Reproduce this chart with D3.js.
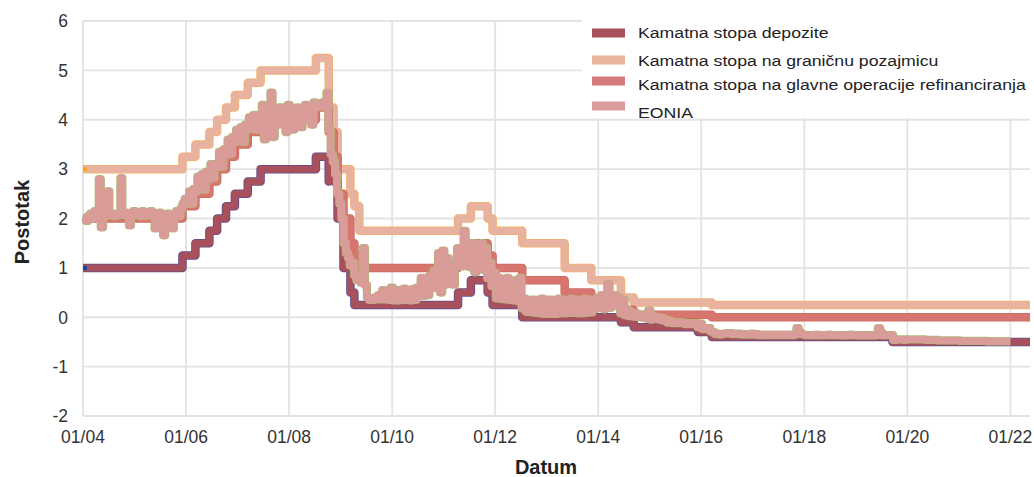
<!DOCTYPE html>
<html>
<head>
<meta charset="utf-8">
<script src="https://cdn.jsdelivr.net/npm/d3@7"></script>
<style>
  body { margin: 0; background: #fff; }
  text { font-family: "Liberation Sans", Arial, sans-serif; }
</style>
</head>
<body>
<svg width="1034" height="477"></svg>
<script>
// datumi promjene kamatnih stopa ESB-a (zadnji = kraj grafikona)
var rateDates = ["2004-01-01","2005-12-06","2006-03-08","2006-06-15","2006-08-09","2006-10-11","2006-12-13",
  "2007-03-14","2007-06-13","2008-07-09","2008-10-08","2008-10-09","2008-10-15","2008-11-12","2008-12-10",
  "2009-01-21","2009-03-11","2009-04-08","2009-05-13","2011-04-13","2011-07-13","2011-11-09","2011-12-14",
  "2012-07-11","2013-05-08","2013-11-13","2014-06-11","2014-09-10","2015-12-09","2016-03-16","2019-09-18","2022-05-20"];

var depozite = [1.00,1.25,1.50,1.75,2.00,2.25,2.50,2.75,3.00,3.25,2.75,3.25,3.25,2.75,2.00,
  1.00,0.50,0.25,0.25,0.50,0.75,0.50,0.25,0.00,0.00,0.00,-0.10,-0.20,-0.30,-0.40,-0.50,-0.50];
var granicna = [3.00,3.25,3.50,3.75,4.00,4.25,4.50,4.75,5.00,5.25,4.75,4.25,4.25,3.75,3.00,
  3.00,2.50,2.25,1.75,2.00,2.25,2.00,1.75,1.50,1.00,0.75,0.40,0.30,0.30,0.25,0.25,0.25];
var glavne = [2.00,2.25,2.50,2.75,3.00,3.25,3.50,3.75,4.00,4.25,3.75,3.75,3.75,3.25,2.50,
  2.00,1.50,1.25,1.00,1.25,1.50,1.25,1.00,0.75,0.50,0.25,0.15,0.05,0.05,0.00,0.00,0.00];

// EONIA: dvije vrijednosti po mjesecu (sredina, kraj mjeseca)
var eonia2004 = [2.02,1.95, 2.05,2.10, 2.00,2.15, 2.05,2.80, 1.82,2.05, 2.05,2.55, 2.08,2.10, 2.05,2.08, 2.07,2.82, 2.10,2.12, 2.05,1.86, 2.08,2.15];
var eonia2005 = [2.08,2.12, 2.05,2.15, 2.05,2.10, 2.07,2.15, 2.05,1.80, 2.07,2.12, 2.06,1.66, 2.06,2.10, 2.08,1.80, 2.07,2.15, 2.05,2.20, 2.30,2.40];
var eonia2006 = [2.30,2.55, 2.30,2.60, 2.55,2.85, 2.60,2.90, 2.58,2.95, 2.80,3.10, 2.82,3.10, 3.05,3.35, 3.05,3.40, 3.30,3.60, 3.30,3.65, 3.55,3.80];
var eonia2007 = [3.56,3.85, 3.55,3.90, 3.80,4.05, 3.82,4.10, 3.80,4.10, 4.05,4.30, 3.60,4.20, 4.10,4.55, 3.65,4.20, 3.90,4.25, 3.95,4.25, 3.75,4.30];
var eonia2008 = [4.10,3.80, 4.05,4.25, 4.10,3.85, 4.00,4.30, 4.00,4.15, 3.90,4.35, 4.25,4.30, 4.30,4.35, 4.25,4.55, 3.80,3.30, 3.15,2.90, 2.50,2.30];
var eonia2009 = [2.00,1.50, 1.30,1.20, 1.05,1.10, 0.85,0.75, 0.80,0.70, 1.40,0.65, 0.40,0.35, 0.35,0.40, 0.36,0.45, 0.36,0.55, 0.36,0.50, 0.35,0.60];
var eonia2010 = [0.34,0.55, 0.34,0.55, 0.35,0.58, 0.35,0.55, 0.34,0.57, 0.35,0.60, 0.48,0.80, 0.43,0.75, 0.45,0.85, 0.70,0.95, 0.59,1.30, 0.50,1.35];
var eonia2011 = [0.66,1.20, 0.71,1.00, 0.66,1.05, 1.40,1.10, 1.03,1.75, 1.12,1.30, 1.01,1.50, 0.91,1.45, 1.01,1.50, 0.96,1.40, 0.79,1.10, 0.63,0.90];
var eonia2012 = [0.38,0.80, 0.37,0.75, 0.36,0.80, 0.35,0.70, 0.34,0.75, 0.33,0.80, 0.18,0.38, 0.11,0.35, 0.10,0.36, 0.09,0.35, 0.08,0.38, 0.07,0.36];
var eonia2013 = [0.07,0.36, 0.07,0.35, 0.07,0.38, 0.08,0.36, 0.08,0.35, 0.09,0.38, 0.09,0.36, 0.08,0.35, 0.08,0.38, 0.09,0.36, 0.10,0.30, 0.17,0.40];
var eonia2014 = [0.20,0.45, 0.16,0.30, 0.68,0.19, 0.25,0.45, 0.25,0.40, 0.08,0.35, 0.04,0.15, 0.02,0.10, 0.01,0.08, 0.00,0.05, -0.01,0.03, -0.03,0.14];
var eonia2015 = [-0.05,0.02, -0.04,0.00, -0.05,-0.01, -0.07,-0.05, -0.11,-0.08, -0.12,-0.10, -0.12,-0.10, -0.12,-0.11, -0.14,-0.12, -0.14,-0.12, -0.13,-0.12, -0.20,-0.13];
var eonia2016 = [-0.24,-0.22, -0.24,-0.22, -0.29,-0.30, -0.34,-0.33, -0.35,-0.34, -0.33,-0.32, -0.33,-0.32, -0.34,-0.33, -0.34,-0.33, -0.35,-0.34, -0.35,-0.34, -0.35,-0.33];
var eonia2017 = [-0.35,-0.34, -0.36,-0.35, -0.36,-0.35, -0.36,-0.35, -0.36,-0.35, -0.36,-0.35, -0.36,-0.35, -0.36,-0.35, -0.36,-0.35, -0.36,-0.35, -0.22,-0.30, -0.34,-0.35];
var eonia2018 = [-0.36,-0.36, -0.36,-0.36, -0.36,-0.35, -0.37,-0.36, -0.36,-0.36, -0.36,-0.35, -0.36,-0.36, -0.36,-0.36, -0.37,-0.36, -0.37,-0.36, -0.36,-0.35, -0.36,-0.36];
var eonia2019 = [-0.37,-0.36, -0.37,-0.36, -0.37,-0.36, -0.37,-0.36, -0.37,-0.36, -0.22,-0.30, -0.37,-0.36, -0.36,-0.36, -0.36,-0.46, -0.46,-0.45, -0.45,-0.45, -0.46,-0.45];
var eonia2020 = [-0.45,-0.45, -0.45,-0.45, -0.45,-0.45, -0.45,-0.45, -0.46,-0.46, -0.46,-0.46, -0.46,-0.46, -0.47,-0.47, -0.47,-0.47, -0.47,-0.47, -0.47,-0.47, -0.47,-0.47];
var eonia2021 = [-0.48,-0.48, -0.48,-0.48, -0.48,-0.48, -0.48,-0.48, -0.48,-0.48, -0.48,-0.48, -0.48,-0.49, -0.49,-0.49, -0.49,-0.49, -0.49,-0.49, -0.49,-0.49, -0.49,-0.49];
var eoniaEnd = "2021-12-31";

var yTicks = [-2,-1,0,1,2,3,4,5,6];
var xTickYears = [2004,2006,2008,2010,2012,2014,2016,2018,2020,2022];
var legendLabels = ["Kamatna stopa depozite","Kamatna stopa na graničnu pozajmicu",
  "Kamatna stopa na glavne operacije refinanciranja","EONIA"];

var parse = d3.timeParse("%Y-%m-%d");
var svg = d3.select("svg");

var x = d3.scaleTime()
  .domain([parse(rateDates[0]), parse(rateDates[rateDates.length-1])])
  .range([83, 1030]);
var y = d3.scaleLinear().domain([-2, 6]).range([416, 21]);

// grid
var grid = svg.append("g");
grid.selectAll(".hg").data(yTicks).enter().append("line")
  .attr("x1", x.range()[0]).attr("x2", x.range()[1])
  .attr("y1", function(d){ return y(d); }).attr("y2", function(d){ return y(d); })
  .attr("stroke", "#e3e3e3").attr("stroke-width", 1.8);
grid.selectAll(".vg").data(xTickYears).enter().append("line")
  .attr("x1", function(d){ return x(new Date(d,0,1)); }).attr("x2", function(d){ return x(new Date(d,0,1)); })
  .attr("y1", y(6)).attr("y2", y(-2))
  .attr("stroke", "#e3e3e3").attr("stroke-width", 1.8);

// axis labels
svg.append("g").selectAll("text").data(yTicks).enter().append("text")
  .attr("x", 68).attr("y", function(d){ return y(d); }).attr("dy", "0.36em")
  .attr("text-anchor", "end").attr("font-size", 17.5).attr("fill", "#333")
  .text(function(d){ return d; });
var fmt = d3.timeFormat("%m/%y");
svg.append("g").selectAll("text").data(xTickYears).enter().append("text")
  .attr("x", function(d){ return x(new Date(d,0,1)); }).attr("y", 443)
  .attr("text-anchor", "middle").attr("font-size", 17.5).attr("fill", "#333")
  .text(function(d){ return fmt(new Date(d,0,1)); });

svg.append("text").attr("transform", "translate(29,222) rotate(-90)")
  .attr("text-anchor", "middle").attr("font-size", 20).attr("font-weight", "bold").attr("fill", "#222")
  .text("Postotak");
svg.append("text").attr("x", 546).attr("y", 474)
  .attr("text-anchor", "middle").attr("font-size", 20).attr("font-weight", "bold").attr("fill", "#222")
  .text("Datum");

// series
function rateSeries(vals){
  return rateDates.map(function(d, i){ return {date: parse(d), value: vals[i]}; });
}
var eoniaYears = [eonia2004,eonia2005,eonia2006,eonia2007,eonia2008,eonia2009,eonia2010,eonia2011,eonia2012,
  eonia2013,eonia2014,eonia2015,eonia2016,eonia2017,eonia2018,eonia2019,eonia2020,eonia2021];
var eoniaData = [];
eoniaYears.forEach(function(arr, k){
  arr.forEach(function(v, i){
    eoniaData.push({date: new Date(2004 + k, Math.floor(i/2), i % 2 ? 22 : 6), value: v});
  });
});
eoniaData.push({date: parse(eoniaEnd), value: eonia2021[eonia2021.length-1]});

var series = [
  {name: legendLabels[0], data: rateSeries(depozite), core: "#a8505c", edge: "#5a4d92", swatch: "#a8505e"},
  {name: legendLabels[1], data: rateSeries(granicna), core: "#e8b2a0", edge: "#f2b068", swatch: "#e9b59d"},
  {name: legendLabels[2], data: rateSeries(glavne), core: "#d6766f", edge: "#cc6a5e", swatch: "#d57b7b"},
  {name: legendLabels[3], data: eoniaData, core: "#d99c99", edge: "#adb872", swatch: "#d99b9b"}
];

var line = d3.line()
  .x(function(d){ return x(d.date); })
  .y(function(d){ return y(d.value); })
  .curve(d3.curveStepAfter);

var lines = svg.append("g");
series.forEach(function(s, i){
  var ew = i === 3 ? 8.2 : 8.5;
  lines.append("path").attr("d", line(s.data)).attr("fill", "none")
    .attr("stroke", s.edge).attr("stroke-width", ew).attr("stroke-linejoin", "round");
  lines.append("path").attr("d", line(s.data)).attr("fill", "none")
    .attr("stroke", s.core).attr("stroke-width", 7).attr("stroke-linejoin", "round");
});

// start markers
lines.append("rect").attr("x", x(parse(rateDates[0]))).attr("y", y(depozite[0]) - 2)
  .attr("width", 4).attr("height", 4).attr("fill", "#1d3fa0");
lines.append("rect").attr("x", x(parse(rateDates[0]))).attr("y", y(granicna[0]) - 2)
  .attr("width", 4).attr("height", 4).attr("fill", "#ffa514");

// legend
svg.append("clipPath").attr("id", "lc").append("rect")
  .attr("x", 582).attr("y", 0).attr("width", 452).attr("height", 118);
var leg = svg.append("g").attr("clip-path", "url(#lc)");
leg.append("rect").attr("x", 582).attr("y", 0).attr("width", 452).attr("height", 118).attr("fill", "#fff");
var rowY = [33, 60, 81, 106];
var rowBase = [38, 66, 90, 118];
series.forEach(function(s, i){
  leg.append("rect").attr("x", 592).attr("y", rowY[i] - 4.5).attr("width", 33).attr("height", 9)
    .attr("fill", s.swatch);
  leg.append("text").attr("transform", "translate(638," + rowBase[i] + ") scale(1.14,1)")
    .attr("font-size", 15.5).attr("fill", "#222").text(s.name);
});
</script>
</body>
</html>
